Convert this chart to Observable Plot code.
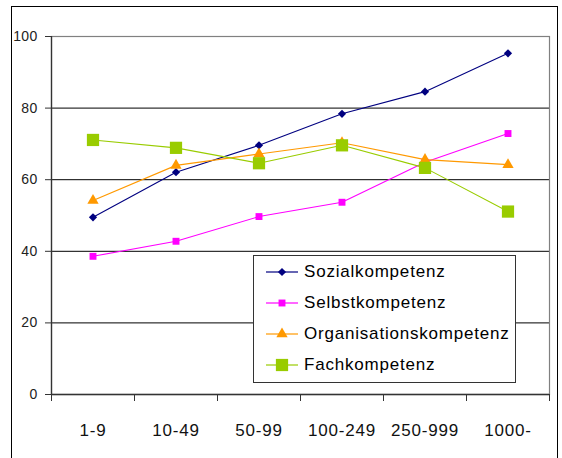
<!DOCTYPE html>
<html><head><meta charset="utf-8">
<script src="https://cdn.jsdelivr.net/npm/d3@7"></script>
<script src="https://cdn.jsdelivr.net/npm/@observablehq/plot@0.6"></script>
<style>
body{margin:0;background:#fff;}
#wrap{position:relative;width:562px;height:458px;overflow:hidden;font-family:"Liberation Sans",Arial,sans-serif;}
#frame{position:absolute;left:11px;top:6px;width:545px;height:470px;border:1.5px solid #000;}
#chart{position:absolute;left:0;top:0;}
#legend{position:absolute;left:253px;top:255px;width:263px;height:128px;border:1px solid #333;background:#fff;box-sizing:border-box;}
.row{position:absolute;left:0;height:24px;display:flex;align-items:center;}
.row svg{display:block;margin-left:11px;}
.row span{margin-left:5px;font-size:17px;letter-spacing:0.8px;color:#000;white-space:nowrap;}
g[aria-label="y-axis tick label"] text{font-size:14px;letter-spacing:0.3px;fill:#222;}
g[aria-label="x-axis tick label"] text{font-size:17px;letter-spacing:0.8px;fill:#111;}
</style></head>
<body>
<div id="wrap"><div id="frame"></div><div id="chart"></div><div id="legend"></div></div>
<script>
const categories = ["1-9","10-49","50-99","100-249","250-999","1000-"];
const yTicks = [0,20,40,60,80,100];
const sozial       = [49.5, 62.1, 69.6, 78.4, 84.6, 95.3];
const selbst       = [38.6, 42.8, 49.7, 53.7, 64.9, 72.9];
const organisation = [54.2, 64.0, 67.2, 70.3, 65.6, 64.2];
const fach         = [71.1, 68.9, 64.6, 69.6, 63.3, 51.1];

const series = [
  {name:"Sozialkompetenz", values:sozial, color:"#000080", symbol:"diamond2", r:3.7, d3s:d3.symbolDiamond2},
  {name:"Selbstkompetenz", values:selbst, color:"#FF00FF", symbol:"square", r:3.9, d3s:d3.symbolSquare},
  {name:"Organisationskompetenz", values:organisation, color:"#FF9900", symbol:"triangle", r:4.2, d3s:d3.symbolTriangle},
  {name:"Fachkompetenz", values:fach, color:"#99CC00", symbol:"square", r:6.9, d3s:d3.symbolSquare}
];

const rows = series.map(s => s.values.map((v,i) => ({series:s.name, cat:categories[i], x:i+0.5, y:v})));
const boundaries = d3.range(categories.length + 1);
const centers = categories.map((c,i) => i + 0.5);

const marks = [
  Plot.ruleY(yTicks.filter(t => t > 0 && t < 100), {stroke:"#000", strokeWidth:1}),
  Plot.frame({stroke:"#808080", strokeWidth:1.2}),
  Plot.ruleX([0], {stroke:"#333", strokeWidth:1.3}),
  Plot.ruleY([0], {stroke:"#333", strokeWidth:1.3}),
  Plot.axisY({ticks:yTicks, tickSize:6, tickPadding:8, tickFormat:d=>String(d), label:null, stroke:"#333"}),
  Plot.axisX({ticks:boundaries, tickSize:7, tickFormat:()=>"", label:null, stroke:"#333"}),
  Plot.axisX({ticks:centers, tickSize:0, tickPadding:29, tickFormat:d=>categories[Math.round(d-0.5)], label:null})
];
series.forEach((s,k) => {
  marks.push(Plot.line(rows[k], {x:"x", y:"y", stroke:s.color, strokeWidth:1.1}));
});
series.forEach((s,k) => {
  marks.push(Plot.dot(rows[k], {x:"x", y:"y", symbol:()=>s.symbol, r:s.r, fill:s.color}));
});

const chart = Plot.plot({
  width:562, height:458,
  marginLeft:51, marginRight:13, marginTop:36, marginBottom:64,
  style:{background:"transparent", fontFamily:'"Liberation Sans",Arial,sans-serif'},
  x:{type:"linear", domain:[0, categories.length], axis:null},
  y:{domain:[0,100], axis:null},
  symbol:{type:"identity"},
  marks
});
document.getElementById("chart").appendChild(chart);

const legend = document.getElementById("legend");
series.forEach((s,k) => {
  const row = document.createElement("div");
  row.className = "row";
  row.style.top = (4 + k*31) + "px";
  const svg = d3.create("svg").attr("width", 34).attr("height", 24);
  svg.append("line").attr("x1",1).attr("x2",33).attr("y1",12).attr("y2",12).attr("stroke", s.color).attr("stroke-width",1.2);
  svg.append("path").attr("transform","translate(17,12)").attr("d", d3.symbol(s.d3s, Math.PI*s.r*s.r)()).attr("fill", s.color);
  row.appendChild(svg.node());
  const t = document.createElement("span");
  t.textContent = s.name;
  row.appendChild(t);
  legend.appendChild(row);
});
</script>
</body></html>
